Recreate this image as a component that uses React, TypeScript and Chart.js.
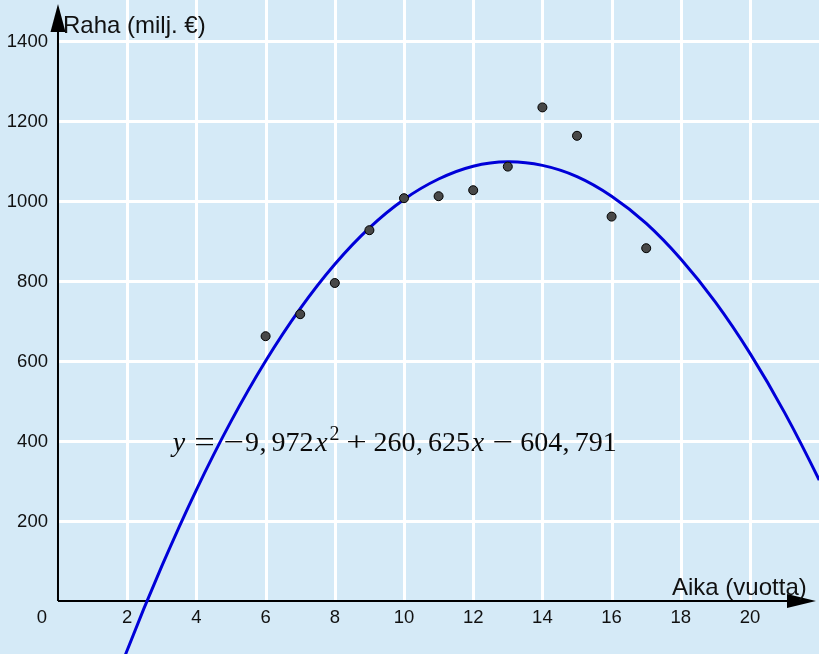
import React, { useEffect, useRef } from "react";
import { Chart, registerables } from "chart.js";

Chart.register(...registerables);

// ---- data ----
const years = [6, 7, 8, 9, 10, 11, 12, 13, 14, 15, 16, 17];
const money = [662, 717, 795, 927, 1007, 1012, 1027, 1086, 1234, 1163, 961, 882];

// regression curve at whole years
const curveX = [1, 2, 3, 4, 5, 6, 7, 8, 9, 10, 11, 12, 13, 14, 15, 16, 17, 18, 19, 20, 21, 22, 23];
const curveY = [-354, -123, 87, 278, 449, 600, 731, 842, 933, 1004, 1055, 1087, 1098, 1089, 1061, 1012, 944, 855, 747, 619, 471, 302, 114];

const xGrid = [2, 4, 6, 8, 10, 12, 14, 16, 18, 20];
const xTickLabels = ["2", "4", "6", "8", "10", "12", "14", "16", "18", "20"];
const yGrid = [200, 400, 600, 800, 1000, 1200, 1400];
const yTickLabels = ["200", "400", "600", "800", "1000", "1200", "1400"];

const xTitle = "Aika (vuotta)";
const yTitle = "Raha (milj. €)";

// equation pieces: [text, advance (em), style]
const eqPieces: [string, number, string][] = [
  ["y", 0.49, "it"],
  ["", 0.278, "rm"],
  ["=", 0.778, "op"],
  ["", 0.278, "rm"],
  ["−", 0.778, "op"],
  ["9", 0.5, "rm"],
  [",", 0.278, "rm"],
  ["", 0.167, "rm"],
  ["972", 1.5, "rm"],
  ["x", 0.572, "it"],
  ["2", 0.35, "sup"],
  ["", 0.222, "rm"],
  ["+", 0.778, "op"],
  ["", 0.222, "rm"],
  ["260", 1.5, "rm"],
  [",", 0.278, "rm"],
  ["", 0.167, "rm"],
  ["625", 1.5, "rm"],
  ["x", 0.572, "it"],
  ["", 0.222, "rm"],
  ["−", 0.778, "op"],
  ["", 0.222, "rm"],
  ["604", 1.5, "rm"],
  [",", 0.278, "rm"],
  ["", 0.167, "rm"],
  ["791", 1.5, "rm"],
];
const eqAnchor = { x: 3.3, y: 375 };

const BG = "#d5eaf7";

const decorPlugin = {
  id: "decor",
  beforeDraw(chart: any) {
    const { ctx } = chart;
    ctx.save();
    ctx.fillStyle = BG;
    ctx.fillRect(0, 0, chart.width, chart.height);
    ctx.restore();
  },
  beforeDatasetsDraw(chart: any) {
    const { ctx, chartArea } = chart;
    const xs = chart.scales.x;
    const ys = chart.scales.y;
    const x0 = xs.getPixelForValue(0);
    const y0 = ys.getPixelForValue(0);
    ctx.save();
    // grid
    ctx.strokeStyle = "#ffffff";
    ctx.lineWidth = 3;
    xGrid.forEach((v) => {
      const px = Math.round(xs.getPixelForValue(v)) + 0.5;
      ctx.beginPath();
      ctx.moveTo(px, y0);
      ctx.lineTo(px, chartArea.top);
      ctx.stroke();
    });
    yGrid.forEach((v) => {
      const py = Math.round(ys.getPixelForValue(v)) + 0.5;
      ctx.beginPath();
      ctx.moveTo(x0, py);
      ctx.lineTo(chartArea.right, py);
      ctx.stroke();
    });
    // axes
    ctx.strokeStyle = "#000";
    ctx.fillStyle = "#000";
    ctx.lineWidth = 2;
    ctx.beginPath();
    ctx.moveTo(x0, y0);
    ctx.lineTo(x0, chartArea.top + 20);
    ctx.stroke();
    ctx.beginPath();
    ctx.moveTo(x0, chartArea.top + 4);
    ctx.lineTo(x0 - 7.5, chartArea.top + 32);
    ctx.lineTo(x0 + 7.5, chartArea.top + 32);
    ctx.closePath();
    ctx.fill();
    ctx.beginPath();
    ctx.moveTo(x0, y0);
    ctx.lineTo(chartArea.right - 20, y0);
    ctx.stroke();
    ctx.beginPath();
    ctx.moveTo(chartArea.right - 3, y0);
    ctx.lineTo(chartArea.right - 32, y0 - 7);
    ctx.lineTo(chartArea.right - 32, y0 + 7);
    ctx.closePath();
    ctx.fill();

    // tick labels
    ctx.fillStyle = "#111";
    ctx.font = '18.5px "Liberation Sans", Arial, sans-serif';
    ctx.textBaseline = "middle";
    ctx.textAlign = "center";
    xGrid.forEach((v, i) => {
      ctx.fillText(xTickLabels[i], xs.getPixelForValue(v), y0 + 17);
    });
    ctx.fillText("0", x0 - 16, y0 + 17);
    ctx.textAlign = "right";
    yGrid.forEach((v, i) => {
      ctx.fillText(yTickLabels[i], x0 - 10, ys.getPixelForValue(v) + 1);
    });

    // axis titles
    ctx.font = '24px "Liberation Sans", Arial, sans-serif';
    ctx.textBaseline = "alphabetic";
    ctx.textAlign = "left";
    ctx.fillText(yTitle, x0 + 5, chartArea.top + 33);
    ctx.fillText(xTitle, chartArea.right - 147, y0 - 6);

    // equation
    const F = 28;
    let ex = xs.getPixelForValue(eqAnchor.x);
    const eb = ys.getPixelForValue(eqAnchor.y);
    ctx.textAlign = "center";
    ctx.fillStyle = "#0a0a0a";
    eqPieces.forEach(([t, w, st]) => {
      const adv = w * F;
      if (t) {
        if (st === "it") ctx.font = `italic ${F}px "Liberation Serif", "Times New Roman", serif`;
        else if (st === "sup") ctx.font = `${Math.round(F * 0.7)}px "Liberation Serif", "Times New Roman", serif`;
        else ctx.font = `${F}px "Liberation Serif", "Times New Roman", serif`;
        const yb = st === "sup" ? eb - 11 : eb;
        if (st === "op") {
          ctx.save();
          ctx.translate(ex + adv / 2, yb);
          ctx.scale(1.3, 1);
          ctx.fillText(t, 0, 0);
          ctx.restore();
        } else {
          ctx.fillText(t, ex + adv / 2, yb);
        }
      }
      ex += adv;
    });
    ctx.restore();
  },
};

export default function App() {
  const ref = useRef<HTMLCanvasElement | null>(null);
  useEffect(() => {
    document.body.style.margin = "0";
    if (!ref.current) return;
    const chart = new Chart(ref.current, {
      type: "scatter",
      data: {
        datasets: [
          {
            label: "fit",
            data: curveX.map((x, i) => ({ x, y: curveY[i] })),
            showLine: true,
            borderColor: "#0000d8",
            borderWidth: 3,
            pointRadius: 0,
            tension: 0.4,
            fill: false,
            order: 2,
          },
          {
            label: "data",
            data: years.map((x, i) => ({ x, y: money[i] })),
            showLine: false,
            pointRadius: 4.5,
            pointBackgroundColor: "#484848",
            pointBorderColor: "#000",
            pointBorderWidth: 1,
            order: 1,
          },
        ],
      },
      options: {
        animation: false,
        responsive: true,
        maintainAspectRatio: false,
        layout: { padding: 0, autoPadding: false },
        scales: {
          x: { type: "linear", min: -1.676, max: 21.994, display: false },
          y: { type: "linear", min: -132.5, max: 1502.5, display: false },
        },
        plugins: { legend: { display: false }, tooltip: { enabled: false } },
        events: [],
      },
      plugins: [decorPlugin],
    });
    return () => chart.destroy();
  }, []);
  return (
    <div style={{ width: 819, height: 654, position: "relative" }}>
      <canvas ref={ref} />
    </div>
  );
}
